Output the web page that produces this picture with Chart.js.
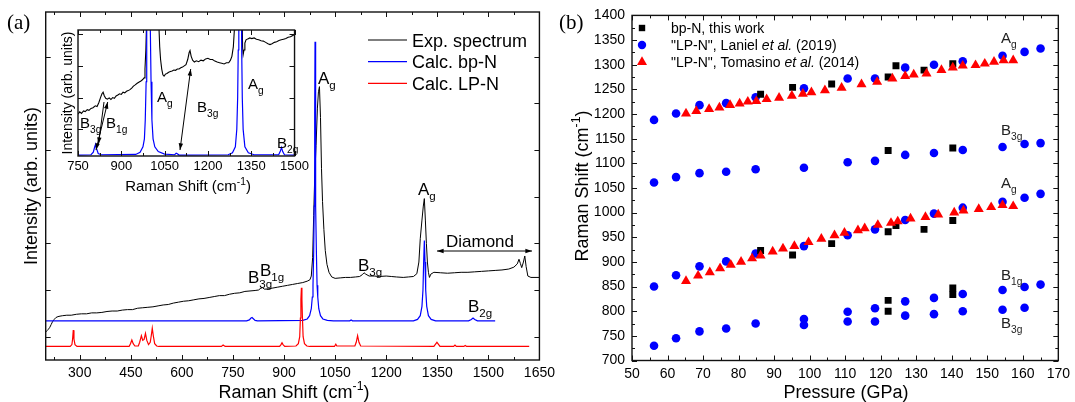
<!DOCTYPE html>
<html>
<head>
<meta charset="utf-8">
<script src="https://cdn.jsdelivr.net/npm/chart.js@4.4.0/dist/chart.umd.min.js"></script>
<style>
  html, body { margin: 0; padding: 0; background: #fff; }
  #wrap { position: relative; width: 1075px; height: 402px; overflow: hidden; }
  canvas { position: absolute; }
  #spec { left: 0; top: 0; }
  #press { left: 550px; top: 0; }
  #inset { left: 52px; top: 22px; }
</style>
</head>
<body>
<div id="wrap">
  <canvas id="spec" width="560" height="402"></canvas>
  <canvas id="press" width="525" height="402"></canvas>
  <canvas id="inset" width="260" height="178"></canvas>
</div>
<script>
const FONT = 'Arial, "Liberation Sans", Helvetica, sans-serif';
Chart.defaults.font.family = FONT;
Chart.defaults.font.size = 14;
Chart.defaults.color = '#000';

//..... (a) Raman spectra, [shift cm-1, intensity arb.]
const expSpectrum = [[200,0.10],[204,0.13],[208,0.16],[212,0.2],[216,0.26],[220,0.32],[225,0.37],[230,0.41],[236,0.43],[242,0.44],[250,0.45],[262,0.46],[275,0.46],[290,0.48],[305,0.49],[320,0.49],[335,0.51],[350,0.51],[365,0.52],[380,0.54],[395,0.55],[410,0.55],[425,0.57],[440,0.58],[455,0.58],[470,0.61],[485,0.62],[500,0.63],[515,0.64],[530,0.66],[545,0.68],[560,0.69],[575,0.72],[590,0.74],[605,0.76],[620,0.77],[635,0.79],[650,0.81],[665,0.82],[680,0.84],[695,0.86],[710,0.88],[725,0.88],[740,0.91],[755,0.93],[770,0.94],[785,0.97],[800,0.98],[815,0.99],[825,1.0],[832,1.04],[837,1.05],[842,1.02],[850,1.02],[865,1.04],[880,1.06],[895,1.08],[910,1.1],[925,1.12],[940,1.14],[955,1.16],[968,1.19],[976,1.22],[980,1.3],[984,1.7],[987,2.6],[990,3.4],[994,4.1],[998,4.9],[1001,5.25],[1004,5.36],[1007,4.7],[1010,3.6],[1013,2.9],[1017,2.3],[1021,1.85],[1026,1.55],[1032,1.38],[1040,1.28],[1050,1.25],[1065,1.26],[1080,1.27],[1095,1.27],[1110,1.28],[1122,1.29],[1130,1.33],[1135,1.37],[1140,1.34],[1150,1.3],[1165,1.3],[1180,1.29],[1200,1.3],[1215,1.29],[1230,1.28],[1250,1.27],[1265,1.28],[1280,1.29],[1290,1.35],[1296,1.6],[1300,2.1],[1305,2.5],[1309,2.8],[1312,2.96],[1315,2.5],[1318,2.0],[1321,1.6],[1324,1.38],[1327,1.27],[1331,1.34],[1340,1.38],[1360,1.37],[1380,1.36],[1400,1.37],[1420,1.38],[1440,1.38],[1460,1.39],[1480,1.4],[1500,1.41],[1520,1.42],[1540,1.43],[1560,1.45],[1575,1.49],[1585,1.56],[1590,1.66],[1594,1.57],[1598,1.48],[1603,1.6],[1607,1.73],[1611,1.5],[1616,1.3],[1625,1.27],[1650,1.27]];
const calcBpN = [[200,0.34],[790,0.34],[798,0.36],[803,0.4],[806,0.41],[809,0.39],[815,0.35],[822,0.34],[955,0.35],[968,0.38],[975,0.45],[980,0.6],[983,0.85],[985,1.1],[987,1.8],[988.5,2.8],[990,4.8],[991,6.32],[992,4.8],[993.5,2.8],[995,1.8],[997,1.1],[999,0.85],[1002,0.6],[1007,0.45],[1014,0.38],[1027,0.35],[1045,0.34],[1093,0.34],[1097,0.36],[1101,0.34],[1280,0.34],[1292,0.37],[1300,0.45],[1305,0.65],[1308,1.0],[1310,1.6],[1312,2.06],[1314,1.6],[1316,1.0],[1319,0.65],[1324,0.45],[1332,0.37],[1345,0.34],[1442,0.34],[1450,0.37],[1455,0.40],[1460,0.37],[1468,0.34],[1520,0.34]];
const calcLpN = [[200,-0.21],[272,-0.21],[277,-0.17],[279,-0.05],[281,0.14],[283,-0.05],[286,-0.17],[292,-0.21],[445,-0.21],[449,-0.15],[453,-0.07],[457,-0.15],[462,-0.2],[472,-0.2],[476,-0.12],[481,0.02],[485,-0.08],[489,-0.06],[493,0.07],[497,-0.08],[502,-0.17],[507,-0.12],[510,0.02],[513,0.18],[516,0.02],[520,-0.15],[526,-0.2],[532,-0.21],[716,-0.21],[721,-0.18],[727,-0.21],[887,-0.21],[891,-0.17],[894,-0.13],[897,-0.17],[902,-0.21],[935,-0.2],[942,-0.15],[946,0.0],[948,0.4],[949.5,0.8],[951,1.05],[952.5,0.8],[954,0.4],[956,0.0],[960,-0.15],[967,-0.2],[975,-0.21],[1048,-0.21],[1052,-0.16],[1055,-0.2],[1108,-0.2],[1112,-0.12],[1116,0.02],[1120,-0.12],[1125,-0.2],[1340,-0.21],[1345,-0.16],[1349,-0.12],[1353,-0.16],[1358,-0.21],[1398,-0.21],[1402,-0.18],[1406,-0.21],[1428,-0.21],[1432,-0.19],[1436,-0.21],[1620,-0.21]];
const specTicks = [300,450,600,750,900,1050,1200,1350,1500,1650];
const specYTicks = [0,1,2,3,4,5,6];

//..... (a) inset, zoom on 750-1500 cm-1
const insetExp = [[750,0.48],[756,0.55],[762,0.5],[769,0.58],[775,0.56],[782,0.62],[788,0.6],[795,0.66],[802,0.68],[810,0.74],[816,0.72],[822,0.84],[828,1.0],[833,1.12],[837,1.17],[841,1.06],[846,0.98],[852,0.95],[858,0.99],[864,0.94],[870,1.0],[876,0.98],[882,1.05],[888,1.08],[894,1.12],[900,1.1],[906,1.17],[912,1.15],[918,1.2],[924,1.22],[930,1.25],[936,1.3],[942,1.36],[948,1.4],[955,1.45],[962,1.49],[968,1.52],[974,1.57],[979,1.62],[982,1.9],[985,2.5],[987,3.2],[990,5],[1000,8],[1020,6],[1030,3.3],[1033,2.6],[1036,2.2],[1040,1.9],[1044,1.72],[1048,1.68],[1053,1.74],[1058,1.76],[1064,1.8],[1070,1.82],[1076,1.84],[1082,1.87],[1088,1.86],[1094,1.9],[1100,1.9],[1106,1.94],[1112,1.96],[1118,2.0],[1124,2.04],[1130,2.2],[1135,2.42],[1138,2.48],[1142,2.3],[1147,2.18],[1153,2.12],[1160,2.16],[1168,2.13],[1176,2.18],[1184,2.16],[1192,2.22],[1200,2.24],[1208,2.2],[1216,2.2],[1224,2.15],[1232,2.12],[1240,2.1],[1248,2.08],[1256,2.06],[1264,2.1],[1272,2.1],[1278,2.18],[1283,2.3],[1288,2.6],[1292,3.2],[1296,5],[1310,8],[1318,4],[1320,2.6],[1322,2.35],[1325,2.5],[1328,2.72],[1332,2.82],[1338,2.85],[1345,2.88],[1352,2.86],[1360,2.88],[1368,2.84],[1376,2.82],[1384,2.79],[1392,2.78],[1400,2.74],[1408,2.7],[1415,2.67],[1422,2.7],[1430,2.74],[1438,2.76],[1446,2.8],[1454,2.82],[1462,2.84],[1470,2.86],[1478,2.9],[1486,2.92],[1494,2.96],[1500,2.99]];
const insetBpN = [[750,-0.81],[795,-0.8],[803,-0.72],[808,-0.55],[811,-0.47],[814,-0.6],[820,-0.76],[830,-0.8],[950,-0.79],[965,-0.72],[975,-0.55],[980,-0.3],[983,0.3],[986,1.5],[988,3.5],[990,8],[994,14],[998,8],[1000,3.5],[1003,1.5],[1006,0.3],[1010,-0.3],[1016,-0.55],[1028,-0.7],[1050,-0.78],[1085,-0.8],[1090,-0.75],[1094,-0.77],[1100,-0.81],[1270,-0.8],[1285,-0.74],[1295,-0.55],[1300,0.0],[1303,1.0],[1305,2.5],[1307,5],[1311,12],[1315,5],[1317,2.5],[1319,1.0],[1322,0.0],[1328,-0.55],[1340,-0.74],[1360,-0.8],[1445,-0.8],[1451,-0.68],[1455,-0.57],[1459,-0.7],[1465,-0.8],[1500,-0.81]];
const insetTicks = [750,900,1050,1200,1350,1500];
const insetYTicks = [0,1,2,3];

//..... (b) Raman shift vs pressure
const bpNPressure = [86.2,95.2,106.2,122.1,124.3,132.2,140.3, 122.1,140.3, 86.2,95.2,106.2,122.1,124.3,132.2,140.3, 122.1,122.1,140.3,140.3];
const bpNShift = [1240,1254,1261,1275,1298,1289,1302, 1126,1131, 923,914,937,961,974,966,984, 822,800,847,834];
const lanielPressure = [56.2,62.4,69.0,76.5,84.8,98.4,110.7,118.4,126.9,135.0,143.1,154.3,160.5,165.0,
  56.2,62.4,69.0,76.5,84.8,98.4,110.7,118.4,126.9,135.0,143.1,154.3,160.5,165.0,
  56.2,62.4,69.0,76.5,84.8,98.4,110.7,118.4,126.9,135.0,143.1,154.3,160.5,165.0,
  98.4,110.7,118.4,126.9,135.0,143.1,154.3,160.5,165.0,
  56.2,62.4,69.0,76.5,84.8,98.4,110.7,118.4,126.9,135.0,143.1,154.3,160.5];
const lanielShift = [1188,1201,1218,1222,1234,1252,1272,1272,1294,1300,1307,1318,1326,1333,
  1061,1072,1080,1083,1088,1091,1102,1105,1117,1121,1127,1133,1139,1141,
  850,873,891,901,917,932,954,966,985,998,1010,1022,1030,1038,
  784,799,806,820,827,835,843,849,854,
  730,745,759,765,775,772,779,779,791,794,800,803,807];
const tomasinoPressure = [65.2,68.1,71.7,74.6,77.6,80.3,82.6,85.0,87.9,91.4,95.0,98.1,100.5,104.3,109.0,114.6,119.0,123.3,126.9,129.3,132.9,137.1,140.3,143.1,146.7,149.3,151.9,154.6,157.3,
  65.2,68.6,71.9,74.8,77.8,80.7,83.8,86.2,89.6,92.5,95.7,99.7,103.3,107.0,109.8,113.6,115.5,119.2,122.9,124.8,128.4,132.6,136.2,140.7,143.3,147.6,151.1,154.3,157.3];
const tomasinoShift = [1201,1206,1210,1213,1218,1221,1225,1226,1230,1233,1237,1241,1244,1248,1253,1260,1265,1272,1277,1280,1282,1289,1294,1298,1299,1302,1306,1309,1309,
  861,872,879,887,894,900,907,913,921,927,932,940,947,954,959,964,968,975,979,982,988,991,996,1000,1004,1007,1011,1015,1013];
const pressureTicks = [50,60,70,80,90,100,110,120,130,140,150,160,170];
const shiftTicks = [700,750,800,850,900,950,1000,1050,1100,1150,1200,1250,1300,1350,1400];

const xy = arr => arr.map(p => ({x: p[0], y: p[1]}));
const zip = (xs, ys) => xs.map((x, i) => ({x: x, y: ys[i]}));

//..... text with sub / superscripts and italics
// parts: [text, kind] kind = '' | 'sub' | 'sup' | 'i'
function richText(ctx, parts, x, y, o) {
  const size = o.size || 16;
  const fonts = parts.map(p => {
    const small = p[1] === 'sub' || p[1] === 'sup';
    return (p[1] === 'i' ? 'italic ' : '') + (small ? size * 0.68 : size) + 'px ' + (o.family || FONT);
  });
  let w = 0;
  parts.forEach((p, i) => { ctx.font = fonts[i]; w += ctx.measureText(p[0]).width; });
  ctx.save();
  ctx.translate(x, y);
  if (o.rot) ctx.rotate(o.rot);
  ctx.textAlign = 'left';
  ctx.textBaseline = 'alphabetic';
  ctx.fillStyle = o.color || '#000';
  let cx = o.align === 'center' ? -w / 2 : 0;
  parts.forEach((p, i) => {
    ctx.font = fonts[i];
    const dy = p[1] === 'sub' ? size * 0.3 : (p[1] === 'sup' ? -size * 0.42 : 0);
    ctx.fillText(p[0], cx, dy);
    cx += ctx.measureText(p[0]).width;
  });
  ctx.restore();
}

function arrow(ctx, x1, y1, x2, y2, both) {
  const head = (xa, ya, xb, yb) => {
    const a = Math.atan2(yb - ya, xb - xa);
    ctx.beginPath();
    ctx.moveTo(xb, yb);
    ctx.lineTo(xb - 7 * Math.cos(a - 0.32), yb - 7 * Math.sin(a - 0.32));
    ctx.lineTo(xb - 7 * Math.cos(a + 0.32), yb - 7 * Math.sin(a + 0.32));
    ctx.closePath();
    ctx.fill();
  };
  ctx.beginPath();
  ctx.moveTo(x1, y1); ctx.lineTo(x2, y2);
  ctx.stroke();
  head(x1, y1, x2, y2);
  if (both) head(x2, y2, x1, y1);
}

//..... ticks pointing inwards on all four sides + frame
function tickValues(scale, sub) {
  const t = scale.ticks.map(k => k.value);
  const d = (t[1] - t[0]) / (sub + 1);
  const out = [];
  for (let i = -(sub + 1); i < 400; i++) {
    const w = t[0] + i * d;
    if (w > scale.max + 1e-9) break;
    if (w < scale.min - 1e-9) continue;
    out.push([w, ((i % (sub + 1)) + (sub + 1)) % (sub + 1) === 0]);
  }
  return out;
}
const frameTicks = {
  id: 'frameTicks',
  afterDatasetsDraw(chart, args, o) {
    const {ctx, chartArea: a} = chart;
    const xs = chart.scales.x, ys = chart.scales.y;
    ctx.save();
    ctx.strokeStyle = '#111';
    ctx.lineWidth = 1;
    ctx.beginPath();
    tickValues(xs, o.xMinor).forEach(([v, major]) => {
      const p = Math.round(xs.getPixelForValue(v)) + 0.5;
      const len = major ? 5 : 3;
      ctx.moveTo(p, a.bottom); ctx.lineTo(p, a.bottom - len);
      ctx.moveTo(p, a.top); ctx.lineTo(p, a.top + len);
    });
    tickValues(ys, o.yMinor).forEach(([v, major]) => {
      const p = Math.round(ys.getPixelForValue(v)) + 0.5;
      const len = major ? 5 : 3;
      ctx.moveTo(a.left, p); ctx.lineTo(a.left + len, p);
      ctx.moveTo(a.right, p); ctx.lineTo(a.right - len, p);
    });
    ctx.stroke();
    ctx.lineWidth = 1.4;
    ctx.strokeRect(a.left, a.top, a.right - a.left, a.bottom - a.top);
    ctx.restore();
  }
};

//..... labels, legends, arrows (drawn per chart from a callback)
const decor = {
  id: 'decor',
  afterDraw(chart, args, o) {
    if (o.draw) o.draw(chart.ctx, chart);
  }
};

const fixedBox = (w, h) => ({
  y: s => { s.width = w; },
  x: s => { s.height = h; }
});

//..........chart (a) main..........
const boxA = fixedBox(45.7, 42);
new Chart(document.getElementById('spec'), {
  type: 'scatter',
  data: {
    datasets: [
      {label: 'Calc. LP-N', data: xy(calcLpN), showLine: true, borderColor: '#ff0000', borderWidth: 1.2, pointRadius: 0, tension: 0},
      {label: 'Calc. bp-N', data: xy(calcBpN), showLine: true, borderColor: '#0000ff', borderWidth: 1.2, pointRadius: 0, tension: 0},
      {label: 'Exp. spectrum', data: xy(expSpectrum), showLine: true, borderColor: '#000', borderWidth: 1, pointRadius: 0, tension: 0}
    ]
  },
  options: {
    responsive: false, animation: false, events: [],
    layout: {padding: {top: 12, right: 17.3, left: 0, bottom: 0}},
    plugins: {
      legend: {display: false}, tooltip: {enabled: false},
      frameTicks: {xMinor: 1, yMinor: 0},
      decor: {draw: ctx => {
        const s = 17;
        richText(ctx, [['(a)', '']], 7, 29, {size: 21, family: '"Liberation Serif", "Times New Roman", serif'});
        richText(ctx, [['Intensity (arb. units)', '']], 37, 186, {size: 18, rot: -Math.PI / 2, align: 'center'});
        richText(ctx, [['Raman Shift (cm', ''], ['-1', 'sup'], [')', '']], 294, 398, {size: 18, align: 'center'});
        richText(ctx, [['A', ''], ['g', 'sub']], 318, 84, {size: s});
        richText(ctx, [['A', ''], ['g', 'sub']], 418, 195, {size: s});
        richText(ctx, [['B', ''], ['3g', 'sub']], 248, 283, {size: s});
        richText(ctx, [['B', ''], ['1g', 'sub']], 260, 276, {size: s});
        richText(ctx, [['B', ''], ['3g', 'sub']], 358, 271, {size: s});
        richText(ctx, [['B', ''], ['2g', 'sub']], 468, 312, {size: s});
        richText(ctx, [['Diamond', '']], 446, 247, {size: s});
        ctx.save();
        ctx.strokeStyle = '#000'; ctx.fillStyle = '#000'; ctx.lineWidth = 1;
        arrow(ctx, 437, 251, 532, 251, true);
        const leg = [['Exp. spectrum', '#000'], ['Calc. bp-N', '#0000ff'], ['Calc. LP-N', '#ff0000']];
        leg.forEach((l, i) => {
          const y = 40 + i * 21.7;
          ctx.strokeStyle = l[1]; ctx.lineWidth = 1.2;
          ctx.beginPath(); ctx.moveTo(368, y); ctx.lineTo(407, y); ctx.stroke();
          richText(ctx, [[l[0], '']], 412, y + 6.5, {size: 18});
        });
        ctx.restore();
      }}
    },
    scales: {
      x: {
        type: 'linear', min: 200, max: 1650,
        afterBuildTicks: s => { s.ticks = specTicks.map(v => ({value: v})); },
        afterFit: boxA.x,
        grid: {display: false, drawTicks: false}, border: {display: false},
        ticks: {padding: 5, maxRotation: 0, autoSkip: false, font: {size: 14}, callback: v => String(v)}
      },
      y: {
        type: 'linear', min: -0.5, max: 6.96,
        afterBuildTicks: s => { s.ticks = specYTicks.map(v => ({value: v})); },
        afterFit: boxA.y,
        grid: {display: false, drawTicks: false}, border: {display: false},
        ticks: {display: false}
      }
    }
  },
  plugins: [frameTicks, decor]
});

//..........chart (a) inset..........
const boxI = fixedBox(26, 44);
new Chart(document.getElementById('inset'), {
  type: 'scatter',
  data: {
    datasets: [
      {label: 'Calc. bp-N', data: xy(insetBpN), showLine: true, borderColor: '#0000ff', borderWidth: 1.2, pointRadius: 0, tension: 0},
      {label: 'Exp. spectrum', data: xy(insetExp), showLine: true, borderColor: '#000', borderWidth: 1.1, pointRadius: 0, tension: 0}
    ]
  },
  options: {
    responsive: false, animation: false, events: [],
    layout: {padding: {top: 8, right: 14, left: 0, bottom: 0}},
    plugins: {
      legend: {display: false}, tooltip: {enabled: false},
      frameTicks: {xMinor: 1, yMinor: 0},
      decor: {draw: ctx => {
        const ox = 52, oy = 22, s = 15;
        richText(ctx, [['Intensity (arb. units)', '']], 72 - ox, 93 - oy, {size: 14, rot: -Math.PI / 2, align: 'center'});
        richText(ctx, [['Raman Shift (cm', ''], ['-1', 'sup'], [')', '']], 188 - ox, 191 - oy, {size: 15, align: 'center'});
        richText(ctx, [['A', ''], ['g', 'sub']], 157 - ox, 102 - oy, {size: s});
        richText(ctx, [['B', ''], ['3g', 'sub']], 197 - ox, 112 - oy, {size: s});
        richText(ctx, [['A', ''], ['g', 'sub']], 248 - ox, 89 - oy, {size: s});
        richText(ctx, [['B', ''], ['3g', 'sub']], 80 - ox, 128 - oy, {size: s});
        richText(ctx, [['B', ''], ['1g', 'sub']], 106 - ox, 128 - oy, {size: s});
        richText(ctx, [['B', ''], ['2g', 'sub']], 277 - ox, 148 - oy, {size: s});
        ctx.save();
        ctx.strokeStyle = '#000'; ctx.fillStyle = '#000'; ctx.lineWidth = 1;
        arrow(ctx, 107.7 - ox, 102 - oy, 96 - ox, 150 - oy, true);
        arrow(ctx, 104 - ox, 102 - oy, 98.5 - ox, 144 - oy, false);
        arrow(ctx, 190.7 - ox, 69 - oy, 180 - ox, 150 - oy, true);
        ctx.restore();
      }}
    },
    scales: {
      x: {
        type: 'linear', min: 750, max: 1500,
        afterBuildTicks: s => { s.ticks = insetTicks.map(v => ({value: v})); },
        afterFit: boxI.x,
        grid: {display: false, drawTicks: false}, border: {display: false},
        ticks: {padding: 3, maxRotation: 0, autoSkip: false, font: {size: 13}, callback: v => String(v)}
      },
      y: {
        type: 'linear', min: -0.84, max: 3.13,
        afterBuildTicks: s => { s.ticks = insetYTicks.map(v => ({value: v})); },
        afterFit: boxI.y,
        grid: {display: false, drawTicks: false}, border: {display: false},
        ticks: {display: false}
      }
    }
  },
  plugins: [frameTicks, decor]
});

//..........chart (b)..........
const boxB = fixedBox(82, 41.5);
new Chart(document.getElementById('press'), {
  type: 'scatter',
  data: {
    datasets: [
      {label: 'bp-N, this work', data: zip(bpNPressure, bpNShift), order: 1,
        pointStyle: 'rect', pointRadius: 4.9, backgroundColor: '#000', borderColor: '#000', borderWidth: 0},
      {label: '"LP-N", Laniel et al. (2019)', data: zip(lanielPressure, lanielShift), order: 2,
        pointStyle: 'circle', pointRadius: 4.3, backgroundColor: '#0000ff', borderColor: '#0000ff', borderWidth: 0},
      {label: '"LP-N", Tomasino et al. (2014)', data: zip(tomasinoPressure, tomasinoShift), order: 0,
        pointStyle: 'triangle', pointRadius: 5.8, backgroundColor: '#ff0000', borderColor: '#ff0000', borderWidth: 0}
    ]
  },
  options: {
    responsive: false, animation: false, events: [],
    layout: {padding: {top: 13.5, right: 13.3, left: 0, bottom: 0}},
    plugins: {
      legend: {display: false}, tooltip: {enabled: false},
      frameTicks: {xMinor: 1, yMinor: 1},
      decor: {draw: ctx => {
        const ox = 550, s = 15;
        richText(ctx, [['(b)', '']], 559 - ox, 29, {size: 21, family: '"Liberation Serif", "Times New Roman", serif'});
        richText(ctx, [['Raman Shift (cm', ''], ['-1', 'sup'], [')', '']], 588 - ox, 186, {size: 18, rot: -Math.PI / 2, align: 'center'});
        richText(ctx, [['Pressure (GPa)', '']], 846 - ox, 398, {size: 18, align: 'center'});
        const lab = {size: s, color: '#222'};
        richText(ctx, [['A', ''], ['g', 'sub']], 1001 - ox, 43, lab);
        richText(ctx, [['B', ''], ['3g', 'sub']], 1001 - ox, 135, lab);
        richText(ctx, [['A', ''], ['g', 'sub']], 1001 - ox, 188, lab);
        richText(ctx, [['B', ''], ['1g', 'sub']], 1001 - ox, 280, lab);
        richText(ctx, [['B', ''], ['3g', 'sub']], 1001 - ox, 328, lab);
        // legend
        const mx = 642 - ox, tx = 671 - ox;
        ctx.save();
        ctx.fillStyle = '#000';
        ctx.fillRect(mx - 3.2, 28 - 3.2, 6.4, 6.4);
        ctx.fillStyle = '#0000ff';
        ctx.beginPath(); ctx.arc(mx, 45, 4.2, 0, Math.PI * 2); ctx.fill();
        ctx.fillStyle = '#ff0000';
        ctx.beginPath();
        ctx.moveTo(mx, 62 - 5.8); ctx.lineTo(mx + 5.0, 62 + 2.9); ctx.lineTo(mx - 5.0, 62 + 2.9);
        ctx.closePath(); ctx.fill();
        ctx.restore();
        richText(ctx, [['bp-N, this work', '']], tx, 33, {size: 14});
        richText(ctx, [['"LP-N", Laniel ', ''], ['et al.', 'i'], [' (2019)', '']], tx, 50, {size: 14});
        richText(ctx, [['"LP-N", Tomasino ', ''], ['et al.', 'i'], [' (2014)', '']], tx, 67, {size: 14});
      }}
    },
    scales: {
      x: {
        type: 'linear', min: 50, max: 170,
        afterBuildTicks: s => { s.ticks = pressureTicks.map(v => ({value: v})); },
        afterFit: boxB.x,
        grid: {display: false, drawTicks: false}, border: {display: false},
        ticks: {padding: 5, maxRotation: 0, autoSkip: false, font: {size: 14}, callback: v => String(v)}
      },
      y: {
        type: 'linear', min: 700, max: 1400,
        afterBuildTicks: s => { s.ticks = shiftTicks.map(v => ({value: v})); },
        afterFit: boxB.y,
        grid: {display: false, drawTicks: false}, border: {display: false},
        ticks: {padding: 7, autoSkip: false, font: {size: 14}, callback: v => String(v)}
      }
    }
  },
  plugins: [frameTicks, decor]
});
</script>
</body>
</html>
